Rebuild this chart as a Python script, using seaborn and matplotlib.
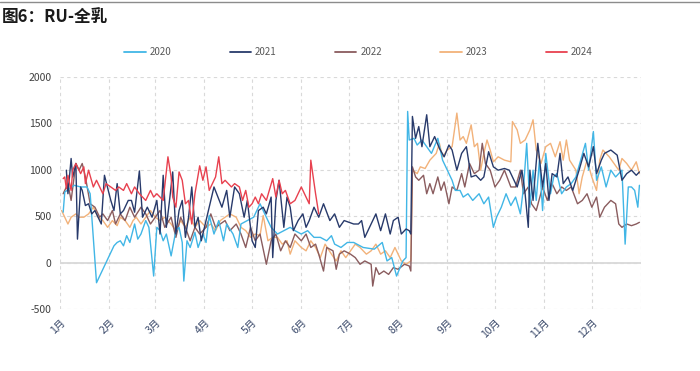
import numpy as np
import pandas as pd
import matplotlib
matplotlib.use("Agg")
import matplotlib.pyplot as plt
import seaborn as sns
from matplotlib.lines import Line2D

# ---------------- data (day of year, value) ----------------
years = ["2020", "2021", "2022", "2023", "2024"]
month_labels = ["1月", "2月", "3月", "4月", "5月", "6月", "7月", "8月", "9月", "10月", "11月", "12月"]
month_starts = [0, 31, 60, 91, 121, 152, 182, 213, 244, 274, 305, 335]

days_2020 = [2,3,9,13,17,19,23,34,36,38,40,42,44,47,49,51,54,56,59,61,
             63,65,67,70,73,75,77,78,80,82,85,87,90,92,94,97,100,103,105,109,
             112,114,118,122,126,129,133,137,141,145,148,152,156,160,164,168,171,173,177,181,
             185,191,198,203,206,209,212,216,218,219,220,223,225,228,231,234,238,241,244,247,
             249,252,254,257,260,264,267,270,273,275,278,281,284,287,290,292,294,296,298,300,
             302,304,306,309,311,313,316,319,322,325,328,331,333,336,338,341,344,347,350,354,
             356,358,360,362,364,365]
vals_2020 = [543,760,833,815,815,742,-217,181,217,235,181,290,217,416,253,308,453,380,-145,380,
             344,235,308,72,344,380,217,-199,235,163,326,163,308,217,507,308,453,235,416,308,
             163,416,453,489,634,525,380,308,344,380,344,308,344,272,272,235,290,199,163,217,
             217,163,145,217,18,54,-145,18,54,1629,1321,1339,1267,1321,1249,1177,1339,1104,996,887,
             778,778,706,742,670,742,634,706,380,489,597,742,615,706,525,815,1285,597,996,670,
             1104,561,1177,742,923,959,742,815,851,923,1104,1285,996,1412,887,1032,815,996,923,996,
             199,815,815,778,597,833]

days_2021 = [4,5,7,8,10,11,13,14,16,18,20,22,25,26,28,32,34,36,38,40,
             43,45,47,50,52,55,58,61,63,65,67,69,71,73,75,77,79,81,83,85,
             87,89,92,94,97,102,105,107,110,113,116,118,121,123,125,128,130,133,134,136,
             138,141,143,145,147,150,153,155,157,160,163,166,170,173,176,179,
             185,188,190,192,196,199,202,205,208,210,213,215,218,220,221,222,224,226,228,231,
             233,236,239,242,245,247,250,253,256,259,262,265,267,270,273,276,280,283,286,288,
             291,293,295,296,298,301,304,306,308,310,313,315,317,320,323,327,330,333,336,338,
             341,343,347,351,354,357,360,363,365]
vals_2021 = [996,742,1122,923,1068,253,815,778,615,634,525,561,453,416,941,670,561,851,525,561,
             670,670,543,988,489,597,489,670,308,941,380,670,977,308,561,670,272,489,815,380,
             489,235,453,597,815,597,778,489,815,742,489,670,235,163,561,597,525,706,54,670,
             887,380,706,597,344,453,525,380,453,597,489,634,453,525,380,453,
             416,416,453,272,416,525,344,525,308,453,489,308,362,344,308,1575,1339,1466,1249,1593,
             1249,1358,1231,1140,1267,1213,996,1177,1249,923,941,887,923,1195,1032,996,1014,996,887,815,
             996,742,380,996,670,1285,815,1068,670,959,923,1177,851,923,778,996,1177,1032,1249,959,
             1104,1177,1213,1158,887,959,996,941,977]

days_2022 = [2,5,7,10,12,14,16,19,22,25,27,30,33,35,38,41,44,47,51,54,
             57,60,63,66,70,73,76,79,82,85,88,92,95,98,101,104,107,111,114,117,
             120,123,126,130,133,136,139,142,145,148,152,155,158,161,163,166,168,172,174,176,
             179,183,186,189,192,196,197,199,201,204,207,210,213,217,220,221,222,224,226,229,
             231,233,235,238,240,242,245,247,250,253,255,258,261,264,266,268,271,274,277,280,
             284,287,290,292,295,297,300,304,307,310,313,316,319,322,326,329,332,335,338,340,
             343,347,350,352,354,357,360,363,365]
vals_2022 = [742,851,670,1068,996,1068,923,634,597,489,525,453,561,416,525,453,597,489,597,525,
             416,489,561,380,489,272,489,380,235,380,308,380,525,380,416,453,344,416,308,163,
             380,235,308,-18,235,308,127,235,163,308,235,308,163,199,91,-91,163,127,-72,91,
             127,91,54,-18,18,-18,-253,-54,-127,-91,-127,-54,-72,-18,-36,-91,1032,923,887,941,
             742,851,742,923,778,869,634,815,778,959,815,1068,959,996,1285,1068,996,815,887,996,
             815,815,996,742,815,634,561,815,670,851,742,815,778,815,634,670,742,597,706,489,
             597,670,634,416,380,416,398,416,434]

days_2023 = [1,3,5,7,10,12,15,18,21,24,27,30,33,36,38,41,44,46,48,51,
             54,57,60,63,66,70,73,76,79,82,85,88,92,95,98,101,104,107,111,114,
             117,120,123,126,128,131,134,137,140,143,145,148,152,155,158,161,164,167,171,174,
             177,180,183,186,189,193,196,199,202,205,208,211,215,218,221,222,225,227,230,233,
             237,239,241,244,247,250,252,254,256,259,261,263,265,267,269,271,273,276,280,284,
             285,288,290,293,296,298,300,303,306,309,312,315,317,319,321,325,327,329,332,335,
             338,340,342,346,349,352,354,357,360,363,365]
vals_2023 = [561,489,416,489,525,489,489,525,597,489,453,380,453,398,489,453,380,453,489,416,
             489,561,489,453,489,416,344,453,380,489,380,453,380,416,344,453,489,525,489,380,
             344,272,308,290,507,235,272,272,199,235,91,235,163,127,235,163,54,199,91,18,
             127,54,127,199,163,91,127,199,91,127,54,163,18,-18,18,996,959,1032,1014,1104,
             1177,1285,1140,1213,1249,1611,1321,1358,1285,1484,1249,1285,996,1177,1321,1213,1086,1140,1104,1086,
             1520,1430,1285,1321,1430,1539,1213,1068,1249,1285,1140,1303,1104,1321,1104,996,742,923,1104,923,
             778,1104,1213,1140,1068,996,1122,1068,996,1086,959]

days_2024 = [2,3,4,5,7,8,10,13,15,16,18,21,23,25,27,29,32,35,37,40,
             42,45,47,50,54,57,59,61,63,65,68,70,71,73,75,77,79,81,83,85,
             88,90,92,94,96,98,100,102,104,106,108,110,113,115,117,119,121,123,125,127,
             130,134,136,138,140,142,145,148,152,155,157,158,161,163]
vals_2024 = [905,923,796,941,778,996,1068,959,1032,851,996,815,887,815,742,851,815,778,815,778,
             851,742,815,742,670,778,706,742,706,670,1140,923,706,597,977,887,634,670,416,742,
             1043,887,1032,778,851,923,1140,851,887,851,815,851,815,670,778,597,634,706,634,742,
             670,905,706,887,742,778,634,670,815,706,634,1104,742,525]

series = {
    "2020": (days_2020, vals_2020),
    "2021": (days_2021, vals_2021),
    "2022": (days_2022, vals_2022),
    "2023": (days_2023, vals_2023),
    "2024": (days_2024, vals_2024),
}
colors = {"2020": "#41b6e6", "2021": "#283a6b", "2022": "#8a5c5e",
          "2023": "#f2b27a", "2024": "#e8414f"}

df = pd.concat([pd.DataFrame({"day": d, "value": v, "year": y})
                for y, (d, v) in series.items()], ignore_index=True)

# ---------------- plot ----------------
sns.set_theme(style="white")
plt.rcParams["font.family"] = ["Noto Sans CJK SC", "DejaVu Sans"]
plt.rcParams["axes.unicode_minus"] = False

fig = plt.figure(figsize=(7, 3.71), dpi=100)
ax = fig.add_axes([60/700, 1-309/371, (641-60)/700, (309-77)/371])

draw_order = ["2023", "2022", "2020", "2021", "2024"]
sns.lineplot(data=df, x="day", y="value", hue="year", hue_order=draw_order,
             palette=colors, estimator=None, sort=False, linewidth=1.0,
             ax=ax, legend=False)

ax.set_xlim(0, 366)
ax.set_ylim(-500, 2000)
ax.set_yticks(range(-500, 2001, 500))
ax.set_xticks(month_starts)
ax.set_xticklabels(month_labels, rotation=45, ha="right", va="top",
                   rotation_mode="anchor", color="#3b4a6b", fontsize=7.5)
ax.tick_params(axis="y", labelsize=7.5, labelcolor="#404040", length=0, pad=6)
ax.tick_params(axis="x", length=0, pad=6)
ax.set_xlabel("")
ax.set_ylabel("")
for s in ax.spines.values():
    s.set_visible(False)
ax.set_axisbelow(True)
ax.grid(True, linestyle=(0, (3, 3)), color="#d9d9d9", linewidth=0.8)
ax.axvline(366, linestyle=(0, (3, 3)), color="#d9d9d9", linewidth=0.8, zorder=0)
ax.axhline(0, color="#d9d9d9", linewidth=1.3, zorder=0.5)

handles = [Line2D([0], [0], color=colors[y], lw=1.3) for y in years]
fig.legend(handles, years, loc="center", bbox_to_anchor=(0.512, 0.86), ncol=5,
           frameon=False, fontsize=7, columnspacing=6.0, handlelength=2.2,
           handletextpad=0.4, labelcolor="#595959")

fig.text(0.003, 1-17/371, "图6：RU-全乳", fontsize=12, fontweight="bold",
         ha="left", va="center", color="#1a1a1a")
fig.add_artist(Line2D([0, 1], [0.995, 0.995], color="#8c8c8c", lw=1,
                      transform=fig.transFigure))

fig.savefig("out.png", dpi=100)
